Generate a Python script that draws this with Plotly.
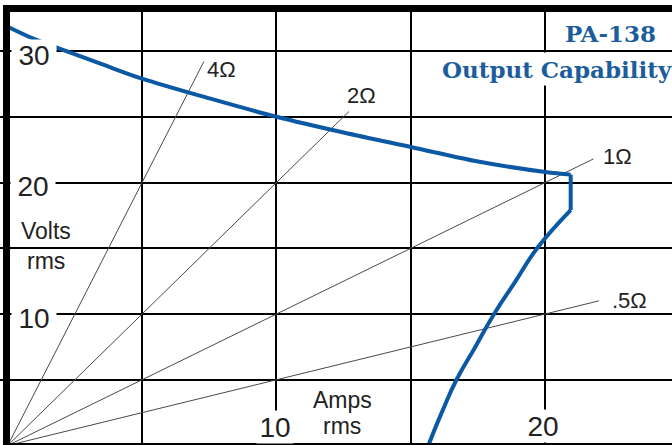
import plotly.graph_objects as go

# ---- data ----
upper_amps = [0.0, 1.0, 1.9, 3.5, 5.0, 7.5, 10.0, 12.5, 15.0, 17.5, 20.0, 20.95]
upper_volts = [31.85, 30.9, 30.2, 29.0, 27.9, 26.4, 25.0, 23.8, 22.7, 21.6, 20.8, 20.6]
step_amps = [20.95, 20.95]
step_volts = [20.6, 17.9]
lower_amps = [20.95, 19.7, 18.9, 18.1, 17.4, 16.7, 16.15, 15.65]
lower_volts = [17.9, 15.0, 12.5, 10.0, 7.5, 5.0, 2.5, 0.0]

load_names = ["4Ω", "2Ω", "1Ω", ".5Ω"]
load_end_amps = [7.3, 12.7, 21.8, 22.0]
load_end_volts = [29.2, 25.4, 21.8, 11.0]

y_tick_text = ["30", "20", "10"]
x_tick_text = ["10", "20"]

title_1 = "PA-138"
title_2 = "Output Capability"

W, H = 672, 445
BLUE = "#0b58a5"
TITLE_BLUE = "#1c5d9c"

def px(x):
    return x / W

def py(y):
    return 1 - y / H

fig = go.Figure()

for name, xa, va in zip(load_names, load_end_amps, load_end_volts):
    fig.add_trace(go.Scatter(x=[0, xa], y=[0, va], mode="lines",
                             line=dict(color="#4a4a4a", width=1),
                             name=name, showlegend=False, hoverinfo="skip"))

fig.add_trace(go.Scatter(x=upper_amps, y=upper_volts, mode="lines",
                         line=dict(color=BLUE, width=4, shape="spline", smoothing=1.0),
                         showlegend=False))
fig.add_trace(go.Scatter(x=step_amps, y=step_volts, mode="lines",
                         line=dict(color=BLUE, width=4), showlegend=False))
fig.add_trace(go.Scatter(x=lower_amps, y=lower_volts, mode="lines",
                         line=dict(color=BLUE, width=4, shape="spline", smoothing=1.3),
                         showlegend=False))

ann = []
num_font = dict(family="Liberation Sans, Arial", size=28, color="#222222")
lab_font = dict(family="Liberation Sans, Arial", size=23, color="#222222")

y_label_pos = {"30": (34, 55), "20": (33, 186), "10": (34, 318)}
for t in y_tick_text:
    xx, yy = y_label_pos[t]
    ann.append(dict(x=px(xx), y=py(yy), xref="paper", yref="paper", text=t,
                    showarrow=False, font=num_font, bgcolor="white",
                    width=44, height=30, borderpad=0,
                    xanchor="center", yanchor="middle"))

x_label_pos = {"10": (275, 427), "20": (543, 426)}
for t in x_tick_text:
    xx, yy = x_label_pos[t]
    ann.append(dict(x=px(xx), y=py(yy), xref="paper", yref="paper", text=t,
                    showarrow=False, font=num_font, bgcolor="white",
                    width=36, height=32, borderpad=0,
                    xanchor="center", yanchor="middle"))

for txt, xx, yy in [("Volts", 46, 231), ("rms", 46, 261), ("Amps", 342, 400), ("rms", 342, 426)]:
    ann.append(dict(x=px(xx), y=py(yy), xref="paper", yref="paper", text=txt,
                    showarrow=False, font=lab_font, xanchor="center", yanchor="middle"))

load_label_pos = {"4Ω": (221, 69), "2Ω": (361, 96), "1Ω": (617, 156), ".5Ω": (629, 300)}
for name in load_names:
    xx, yy = load_label_pos[name]
    ann.append(dict(x=px(xx), y=py(yy), xref="paper", yref="paper", text=name,
                    showarrow=False, font=dict(family="Liberation Sans, Arial", size=22, color="#222222"),
                    xanchor="center", yanchor="middle"))

tfont = dict(family="DejaVu Serif", size=23, color=TITLE_BLUE)
ann.append(dict(x=px(610), y=py(34), xref="paper", yref="paper", text="<b>%s</b>" % title_1,
                showarrow=False, font=tfont, xanchor="center", yanchor="middle"))
ann.append(dict(x=px(557), y=py(69), xref="paper", yref="paper", text="<b>%s</b>" % title_2,
                showarrow=False, font=tfont, bgcolor="white", height=32, borderpad=0,
                xanchor="center", yanchor="middle"))

shapes = [
    dict(type="rect", xref="paper", yref="paper", x0=0, x1=1, y0=py(5), y1=1,
         fillcolor="white", line=dict(width=0), layer="above"),
    dict(type="rect", xref="paper", yref="paper", x0=px(3), x1=1, y0=py(12), y1=py(5),
         fillcolor="black", line=dict(width=0), layer="above"),
    dict(type="rect", xref="paper", yref="paper", x0=px(3), x1=px(10), y0=0, y1=py(5),
         fillcolor="black", line=dict(width=0), layer="above"),
    dict(type="line", xref="paper", yref="paper", x0=px(3), x1=1, y0=py(444), y1=py(444),
         line=dict(color="black", width=2), layer="above"),
]

fig.update_layout(
    width=W, height=H,
    margin=dict(l=0, r=0, t=0, b=0),
    paper_bgcolor="white", plot_bgcolor="white",
    showlegend=False,
    annotations=ann,
    shapes=shapes,
    xaxis=dict(range=[-0.287, 24.72], tick0=0, dtick=5, showgrid=True,
               gridcolor="black", gridwidth=2, zeroline=False,
               showticklabels=False, ticks="", showline=False, fixedrange=True),
    yaxis=dict(range=[0.04, 33.88], tick0=0, dtick=5, showgrid=True,
               gridcolor="black", gridwidth=2, zeroline=False,
               showticklabels=False, ticks="", showline=False, fixedrange=True),
)

fig.write_html("out.html", config={"displayModeBar": False},
               post_script="document.body.style.margin='0';")
